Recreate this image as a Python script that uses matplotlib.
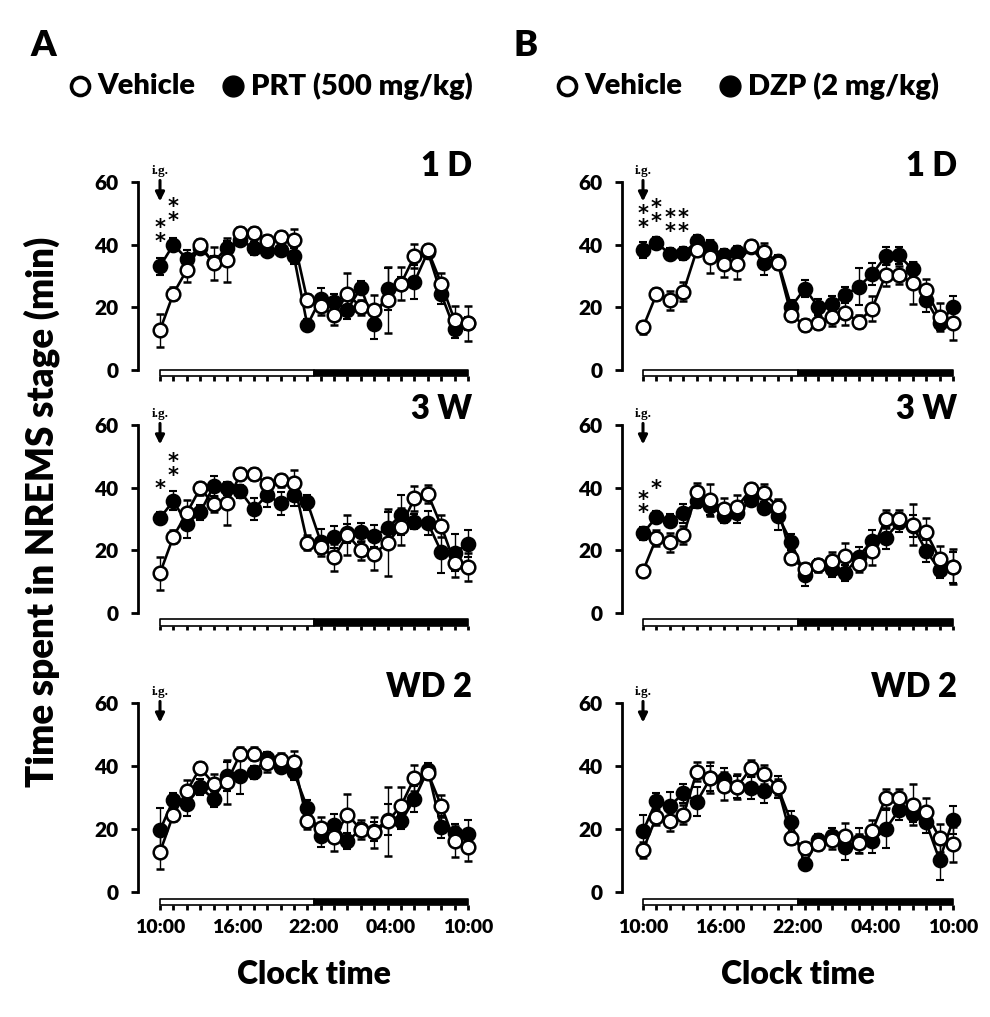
import numpy as np
import matplotlib
matplotlib.use('Agg')
import matplotlib.pyplot as plt
from matplotlib.lines import Line2D

plt.rcParams['font.family'] = ['Lato', 'DejaVu Sans']
plt.rcParams['font.weight'] = 'bold'

# ---------------- data ----------------
n_points = 24
xtick_pos = [0, 5.75, 11.5, 17.25, 23]
xtick_labels = ['10:00', '16:00', '22:00', '04:00', '10:00']
dark_start = 11.5

# Panel A (PRT 500 mg/kg)
a_1d_veh = [12.7, 24.4, 31.9, 39.8, 34.0, 35.0, 43.7, 43.7, 41.2, 42.3, 41.4, 22.3,
            20.4, 17.5, 24.4, 20.0, 19.1, 22.3, 27.6, 36.3, 38.2, 27.6, 15.9, 14.9]
a_1d_veh_err = [5.3, 2, 3.7, 2, 5.3, 7, 2, 2, 2, 2, 3.7, 2,
                3, 3, 6.6, 2.5, 4.8, 10.5, 5.3, 3.8, 2, 3.4, 4.5, 5.5]
a_1d_drug = [33.1, 40.0, 35.5, 39.0, 34.5, 39.0, 41.6, 38.8, 38.0, 38.4, 36.3, 14.3,
             22.8, 21.8, 19.3, 26.3, 14.7, 26.0, 27.6, 28.1, 37.7, 24.2, 13.0, 14.9]
a_1d_drug_err = [2.8, 2, 2.8, 2, 2, 2.2, 2, 2, 1.7, 2, 2.5, 2,
                 3.5, 2.5, 3, 2, 4.7, 6.7, 2, 5.3, 2, 3.2, 2.9, 2]

a_3w_veh = [12.7, 24.4, 31.9, 39.8, 34.8, 35.0, 44.4, 44.4, 41.2, 42.3, 41.6, 22.5,
            21.2, 17.8, 25.0, 20.0, 18.9, 22.5, 27.6, 36.6, 38.0, 27.8, 15.9, 14.7]
a_3w_veh_err = [5.3, 2, 4.2, 2, 2.5, 6.8, 2, 2, 2, 2, 4, 2.5,
                3, 4.3, 6.4, 3, 5.1, 10.8, 5.8, 3.9, 3, 3.4, 4.5, 4.6]
a_3w_drug = [30.3, 35.8, 28.5, 32.1, 40.4, 39.8, 38.8, 33.1, 37.7, 35.0, 37.5, 35.3,
             22.8, 24.2, 25.5, 25.7, 24.6, 27.1, 31.3, 29.2, 28.7, 19.6, 19.3, 22.1]
a_3w_drug_err = [2, 3, 4.5, 2.5, 3.2, 2, 2, 3.5, 4, 3.7, 3.5, 2.5,
                 4, 3.5, 3, 3, 3.5, 5, 6.5, 2.5, 3.7, 6.8, 5.8, 4.3]

a_wd2_veh = [12.7, 24.6, 32.0, 39.4, 34.4, 34.8, 43.9, 43.9, 41.0, 42.0, 41.2, 22.4,
             20.3, 17.5, 24.6, 19.8, 18.9, 22.4, 27.4, 36.2, 37.8, 27.4, 16.1, 14.3]
a_wd2_veh_err = [5.3, 2, 3.5, 2, 3, 7, 2, 2, 3, 2, 3.7, 2.5,
                 3.5, 4.5, 6.5, 3, 5, 11, 5.8, 4, 2, 3.5, 5, 4.5]
a_wd2_drug = [19.6, 29.3, 28.0, 33.3, 29.5, 36.7, 36.9, 38.0, 42.5, 39.7, 38.0, 26.7,
              17.9, 21.4, 16.1, 20.0, 19.3, 23.0, 22.4, 29.5, 38.8, 20.6, 18.7, 18.5]
a_wd2_drug_err = [7, 2, 4, 2.5, 2.5, 4.5, 5.8, 2, 2, 2, 2.5, 2.5,
                  3.5, 3.5, 2.5, 2, 3, 5, 2.5, 4, 2, 3.5, 3, 4.5]

# Panel B (DZP 2 mg/kg)
b_1d_veh = [13.6, 24.2, 22.3, 25.0, 38.4, 36.1, 33.8, 33.8, 39.5, 37.7, 34.2, 17.5,
            14.3, 15.1, 17.0, 18.3, 15.4, 19.6, 30.3, 30.3, 27.8, 25.5, 17.0, 15.1]
b_1d_veh_err = [2, 2, 3, 3, 2, 5.3, 4, 4.6, 2, 2.9, 2, 2,
                2, 2, 3, 4, 2, 4, 3.5, 3, 6.6, 3.5, 4.5, 5.5]
b_1d_drug = [38.2, 40.6, 37.0, 37.2, 41.2, 39.1, 36.6, 37.7, 39.3, 34.0, 34.8, 20.2,
             26.0, 20.2, 21.0, 23.9, 26.6, 30.6, 36.3, 36.6, 32.1, 22.5, 14.9, 20.0]
b_1d_drug_err = [2.5, 2, 2, 2, 2, 2.5, 2, 2, 2, 3.7, 2, 2,
                 2.7, 2.5, 2.5, 2.5, 5.8, 3.6, 2.8, 2.7, 2.5, 3.9, 2, 3.6]

b_3w_veh = [13.4, 24.0, 22.6, 24.9, 38.5, 36.1, 33.2, 33.9, 39.5, 38.2, 33.9, 17.6,
            14.1, 15.2, 16.5, 18.3, 15.5, 19.9, 30.0, 30.0, 28.2, 25.8, 17.3, 14.8]
b_3w_veh_err = [2, 2.5, 3, 3, 3, 5, 3.5, 3.7, 2, 3, 2.5, 2,
                2, 2, 3, 4, 2.5, 4.5, 3, 3, 6.5, 4.5, 4, 5.5]
b_3w_drug = [25.4, 30.7, 29.5, 31.8, 35.6, 34.2, 31.1, 31.8, 36.0, 33.5, 31.1, 22.6,
             12.0, 15.2, 14.1, 12.7, 18.0, 23.1, 24.0, 28.9, 27.9, 19.9, 13.8, 14.6]
b_3w_drug_err = [2, 2, 2, 3, 2, 3, 2.5, 3, 2, 2, 4.5, 2.5,
                 3.5, 2, 2.5, 2.5, 3, 3.5, 3.5, 3, 3.5, 3.5, 2.5, 5]

b_wd2_veh = [13.4, 23.9, 22.4, 24.5, 38.2, 36.3, 33.7, 33.4, 39.3, 37.4, 33.4, 17.2,
             14.0, 15.3, 16.5, 17.9, 15.5, 19.3, 29.8, 29.8, 27.7, 25.3, 17.2, 15.1]
b_wd2_veh_err = [2.5, 2.5, 3, 3, 3, 5, 4.5, 4, 2.5, 3, 2.5, 2,
                 2, 2, 3, 4, 3, 3.5, 3, 3, 6.5, 4.5, 4.5, 5.5]
b_wd2_drug = [19.3, 29.0, 27.4, 31.3, 28.7, 36.1, 35.8, 33.2, 32.9, 32.1, 33.2, 22.1,
              8.9, 16.5, 17.9, 14.2, 16.3, 16.3, 20.0, 26.0, 24.7, 22.1, 10.2, 22.8]
b_wd2_drug_err = [5, 2.5, 4.5, 3, 4.5, 4, 3.5, 3.5, 3.5, 4, 3.5, 3.5,
                  2, 2, 2.5, 4, 4, 4, 6, 3, 2.5, 3.5, 6.5, 4.5]

# significance asterisks: (time index, y centre of the stack, number of stars)
a_1d_stars = [(0, 43.2, 2), (1, 49.9, 2)]
b_1d_stars = [(0, 47.6, 2), (1, 49.4, 2), (2, 46.2, 2), (3, 46.2, 2)]
a_3w_stars = [(0, 39.5, 1), (1, 45.9, 2)]
b_3w_stars = [(0, 34.0, 2), (1, 39.5, 1)]

row_titles = ['1 D', '3 W', 'WD 2']
panel_letters = ['A', 'B']
drug_labels = ['PRT (500 mg/kg)', 'DZP (2 mg/kg)']

panels = [
    [(a_1d_veh, a_1d_veh_err, a_1d_drug, a_1d_drug_err, a_1d_stars),
     (a_3w_veh, a_3w_veh_err, a_3w_drug, a_3w_drug_err, a_3w_stars),
     (a_wd2_veh, a_wd2_veh_err, a_wd2_drug, a_wd2_drug_err, [])],
    [(b_1d_veh, b_1d_veh_err, b_1d_drug, b_1d_drug_err, b_1d_stars),
     (b_3w_veh, b_3w_veh_err, b_3w_drug, b_3w_drug_err, b_3w_stars),
     (b_wd2_veh, b_wd2_veh_err, b_wd2_drug, b_wd2_drug_err, [])],
]

# ---------------- layout (pixels) ----------------
W, H = 990, 1017
fig = plt.figure(figsize=(W / 100, H / 100), dpi=100)

col_x0 = [160, 643]      # pixel of first point
col_x23 = [468, 953]     # pixel of last point
col_spine = [138, 622]   # pixel of y axis spine
row_y60 = [182, 425, 703]
row_y0 = [370, 613, 892]
bar_offset = [0.0, -2.0, -2.2]   # bar top in data units

XL, XR = -2.0, 23.8
YB, YT = -8.0, 68.0

for c in range(2):
    sx = (col_x23[c] - col_x0[c]) / 23.0
    for r in range(3):
        sy = (row_y0[r] - row_y60[r]) / 60.0
        left = col_x0[c] + XL * sx
        right = col_x0[c] + XR * sx
        top = row_y0[r] - YT * sy
        bottom = row_y0[r] - YB * sy
        ax = fig.add_axes([left / W, 1 - bottom / H, (right - left) / W, (bottom - top) / H])
        ax.set_xlim(XL, XR)
        ax.set_ylim(YB, YT)
        ax.patch.set_visible(False)
        for s in ['top', 'right', 'bottom']:
            ax.spines[s].set_visible(False)
        ax.spines['left'].set_position(('data', (col_spine[c] - col_x0[c]) / sx))
        ax.spines['left'].set_bounds(0, 60)
        ax.spines['left'].set_linewidth(2)
        ax.set_yticks([0, 20, 40, 60])
        ax.set_yticklabels(['0', '20', '40', '60'], fontsize=15, fontweight='heavy')
        ax.tick_params(axis='y', length=5, width=2, pad=9)

        veh, veh_err, drug, drug_err, stars = panels[c][r]
        x = np.arange(n_points)
        ax.errorbar(x, drug, yerr=drug_err, fmt='-o', color='black', lw=1.9,
                    ms=9.8, mfc='black', mec='black', mew=1.5,
                    ecolor='black', elinewidth=1, capsize=3, capthick=1, zorder=3)
        ax.errorbar(x, veh, yerr=veh_err, fmt='-o', color='black', lw=1.9,
                    ms=9.8, mfc='white', mec='black', mew=1.8,
                    ecolor='black', elinewidth=1, capsize=3, capthick=1, zorder=4)

        # light/dark bar
        bt = bar_offset[r]
        bh = 2.0
        ax.fill_between([0, dark_start], bt - bh, bt, facecolor='white', edgecolor='black', lw=1.2, zorder=2)
        ax.fill_between([dark_start, 23], bt - bh, bt, facecolor='black', edgecolor='black', lw=1.2, zorder=2)
        ax.vlines(x, bt - bh - 1.4, bt - bh, colors='black', lw=2, zorder=2)

        # x tick labels only on bottom row
        if r == 2:
            ax.set_xticks(xtick_pos)
            ax.set_xticklabels(xtick_labels, fontsize=14, fontweight='heavy')
            ax.tick_params(axis='x', length=0, pad=1)
        else:
            ax.set_xticks([])

        # injection marker
        ax.text(0, 61.5, 'i.g.', ha='center', va='bottom', fontsize=9.5,
                family='Liberation Serif')
        ax.annotate('', xy=(0, 53.8), xytext=(0, 60.5),
                    arrowprops=dict(arrowstyle='-|>', lw=2.2, color='black',
                                    mutation_scale=13, shrinkA=0, shrinkB=0))

        for (si, syv, n) in stars:
            ax.text(si, syv, '\n'.join(['*'] * n), ha='center', va='center',
                    fontsize=15, fontweight='bold', family='DejaVu Sans',
                    linespacing=0.62)

        ax.text(23.3, 65, row_titles[r], ha='right', va='center', fontsize=23.5,
                fontweight='heavy')

    # column header: letter and legend
    fig.text((col_spine[c] - 108) / W, 1 - 45 / H, panel_letters[c], fontsize=26,
             fontweight='heavy', ha='left', va='center')
    cx_open = [80, 567][c]
    cx_fill = [233, 730][c]
    fig.add_artist(Line2D([cx_open / W], [1 - 86 / H], marker='o', ms=13, mfc='white',
                          mec='black', mew=2.6, transform=fig.transFigure))
    fig.add_artist(Line2D([cx_fill / W], [1 - 86 / H], marker='o', ms=15, mfc='black',
                          mec='black', transform=fig.transFigure))
    fig.text((cx_open + 17) / W, 1 - 86 / H, 'Vehicle', fontsize=21, fontweight='heavy',
             ha='left', va='center')
    fig.text((cx_fill + 18) / W, 1 - 86 / H, drug_labels[c], fontsize=21, fontweight='heavy',
             ha='left', va='center')
    fig.text(((col_x0[c] + col_x23[c]) / 2) / W, 1 - 975 / H, 'Clock time', fontsize=23,
             fontweight='heavy', ha='center', va='center')

fig.text(42 / W, 1 - 512 / H, 'Time spent in NREMS stage (min)', rotation=90,
         fontsize=26.5, fontweight='heavy', ha='center', va='center')

fig.savefig('out.png', dpi=100)
